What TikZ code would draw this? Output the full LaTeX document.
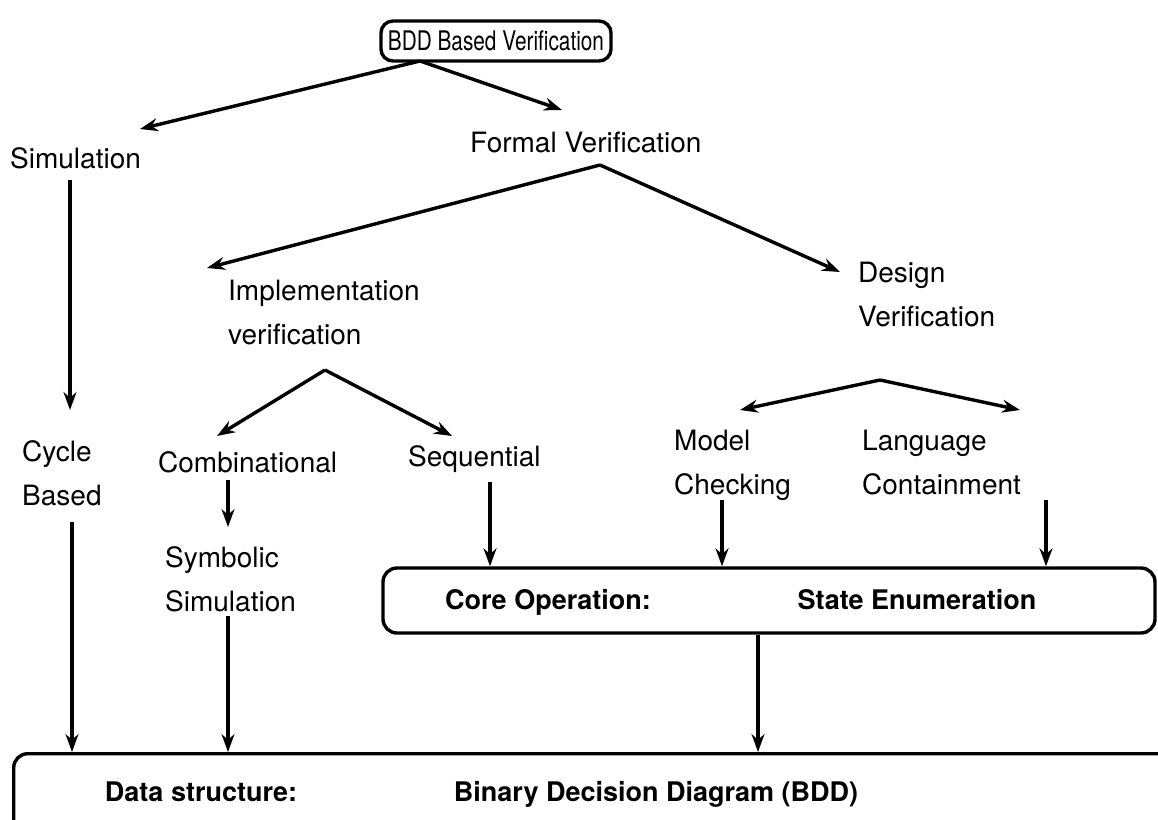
\documentclass[tikz,border=0pt]{standalone}
\usepackage{fontspec}
\setmainfont{TeX Gyre Heros}
\usetikzlibrary{arrows.meta}
\tikzset{
  lbl/.style={inner sep=0pt, anchor=base west, align=left, font=\fontsize{28}{44}\selectfont},
  blbl/.style={inner sep=0pt, anchor=base, font=\fontsize{27}{32}\selectfont\bfseries},
  arr/.style={line width=3.4pt, -{Stealth[length=18pt, width=13pt, inset=6pt]}},
  seg/.style={line width=3.4pt},
  rbox/.style={draw, line width=3.4pt, rounded corners=14pt},
}
\begin{document}
\begin{tikzpicture}[x=1pt, y=-1pt]
\useasboundingbox (0,0) rectangle (1158,819);

% root
\node[rbox, rounded corners=12pt, inner xsep=7pt, inner ysep=0pt, minimum height=40pt,
      font=\fontsize{27}{30}\selectfont\addfontfeature{FakeStretch=0.77}] (root) at (496,41) {BDD Based Verification};

% first level
\node[lbl] (sim) at (10,168) {Simulation};
\node[lbl] (fv) at (470,152) {Formal Verification};

% second level
\node[lbl, anchor=north west] (impl) at (228,280) {Implementation\\verification};
\node[lbl, anchor=north west] (dv) at (858,262) {Design\\Verification};

% third level
\node[lbl, anchor=north west] (cyc) at (22,440) {Cycle\\Based};
\node[lbl] (comb) at (158,472) {Combinational};
\node[lbl] (seq) at (408,466) {Sequential};
\node[lbl, anchor=north west] (mc) at (674,430) {Model\\Checking};
\node[lbl, anchor=north west] (lc) at (862,430) {Language\\Containment};
\node[lbl, anchor=north west] (symb) at (165,546) {Symbolic\\Simulation};

% core operation box
\node[rbox, minimum width=772pt, minimum height=65pt] (core) at (769,600.5) {};
\node[blbl] (coretxt) at (548,609) {Core Operation:};
\node[blbl] (stateenum) at (917,609) {State Enumeration};

% data structure box (runs past the page edge)
\node[rbox, anchor=north west, minimum width=1190pt, minimum height=120pt] (data) at (12,752) {};
\node[blbl] (datatxt) at (201,801) {Data structure:};
\node[blbl] (bddtxt) at (656,801) {Binary Decision Diagram (BDD)};

% branch points below the labels
\coordinate (rootsplit) at (420,61);
\coordinate (fvsplit) at (600,165);
\coordinate (implsplit) at (325,370);
\coordinate (dvsplit) at (880,380);

% connectors
\draw[seg] (root.south -| rootsplit) -- (rootsplit);
\draw[arr] (rootsplit) -- (140,129);
\draw[arr] (rootsplit) -- (562,110);

\draw[arr] (fvsplit) -- (207,268);
\draw[arr] (fvsplit) -- (840,272);

\draw[arr] (implsplit) -- (217,436);
\draw[arr] (implsplit) -- (452,436);

\draw[arr] (dvsplit) -- (740,410);
\draw[arr] (dvsplit) -- (1020,410);

\draw[arr] (70,180) -- (70,410);
\draw[arr] (228,480) -- (228,527);
\draw[arr] (490,482) -- (core.north -| 490,0);
\draw[arr] (722,500) -- (core.north -| 722,0);
\draw[arr] (1046,500) -- (core.north -| 1046,0);

\draw[arr] (72,522) -- (data.north -| 72,0);
\draw[arr] (228,616) -- (data.north -| 228,0);
\draw[arr] (core.south -| 758,0) -- (data.north -| 758,0);
\end{tikzpicture}
\end{document}
